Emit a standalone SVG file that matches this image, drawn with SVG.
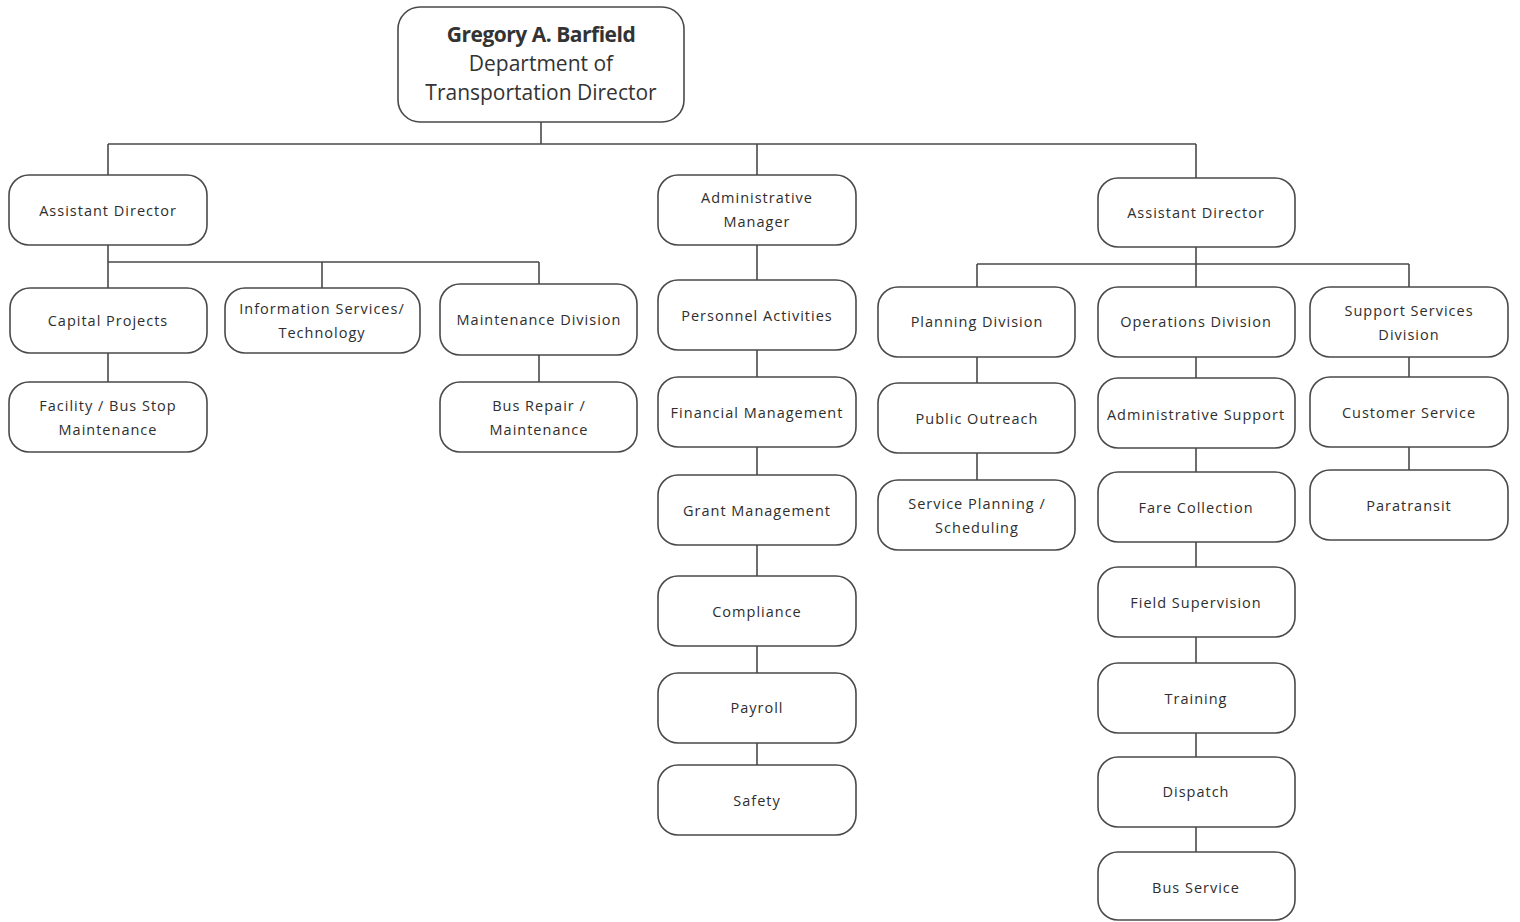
<svg xmlns="http://www.w3.org/2000/svg" width="1520" height="922" viewBox="0 0 1520 922">
<style>
.n{fill:#fff;stroke:#4a4a4a;stroke-width:1.6}
.t{font-family:"Open Sans","Liberation Sans",sans-serif;font-size:14.5px;fill:#2e2e2e;text-anchor:middle;letter-spacing:1px}
.h{font-family:"Open Sans","Liberation Sans",sans-serif;font-size:21px;fill:#333;text-anchor:middle}
.c{fill:none;stroke:#4a4a4a;stroke-width:1.6}
</style>
<rect width="1520" height="922" fill="#fff"/>
<g id="connectors" class="c">
<path d="M541 122V144M108 144H1196M108 144V175M757 144V175M1196 144V178"/>
<path d="M108 245V288M108 262H539M322 262V288M539 262V284M108 353V382M539 355V382"/>
<path d="M757 245V280M757 350V377M757 447V475M757 545V576M757 646V673M757 743V765"/>
<path d="M1196 247V287M977 264H1409M977 264V287M1409 264V287"/>
<path d="M977 357V383M977 453V480"/>
<path d="M1196 357V378M1196 448V472M1196 542V567M1196 637V663M1196 733V757M1196 827V852"/>
<path d="M1409 357V377M1409 447V470"/>
</g>
<g id="director"><rect class="n" x="398" y="7" width="286" height="115" rx="22"/>
<text class="h" x="541" y="42" font-weight="bold" letter-spacing="-0.5">Gregory A. Barfield</text>
<text class="h" x="541" y="71">Department of</text>
<text class="h" x="541" y="100">Transportation Director</text></g>
<g id="asst-left"><rect class="n" x="9" y="175" width="198" height="70" rx="20"/><text class="t" x="108" y="216">Assistant Director</text></g>
<g id="capital"><rect class="n" x="10" y="288" width="197" height="65" rx="20"/><text class="t" x="108" y="326">Capital Projects</text></g>
<g id="infoserv"><rect class="n" x="225" y="288" width="195" height="65" rx="20"/><text class="t" x="322" y="314">Information Services/</text><text class="t" x="322" y="338">Technology</text></g>
<g id="maintdiv"><rect class="n" x="440" y="284" width="197" height="71" rx="20"/><text class="t" x="539" y="325">Maintenance Division</text></g>
<g id="facility"><rect class="n" x="9" y="382" width="198" height="70" rx="20"/><text class="t" x="108" y="411">Facility / Bus Stop</text><text class="t" x="108" y="435">Maintenance</text></g>
<g id="busrepair"><rect class="n" x="440" y="382" width="197" height="70" rx="20"/><text class="t" x="539" y="411">Bus Repair /</text><text class="t" x="539" y="435">Maintenance</text></g>
<g id="adminmgr"><rect class="n" x="658" y="175" width="198" height="70" rx="20"/><text class="t" x="757" y="203">Administrative</text><text class="t" x="757" y="227">Manager</text></g>
<g id="personnel"><rect class="n" x="658" y="280" width="198" height="70" rx="20"/><text class="t" x="757" y="321">Personnel Activities</text></g>
<g id="financial"><rect class="n" x="658" y="377" width="198" height="70" rx="20"/><text class="t" x="757" y="418">Financial Management</text></g>
<g id="grant"><rect class="n" x="658" y="475" width="198" height="70" rx="20"/><text class="t" x="757" y="516">Grant Management</text></g>
<g id="compliance"><rect class="n" x="658" y="576" width="198" height="70" rx="20"/><text class="t" x="757" y="617">Compliance</text></g>
<g id="payroll"><rect class="n" x="658" y="673" width="198" height="70" rx="20"/><text class="t" x="757" y="713">Payroll</text></g>
<g id="safety"><rect class="n" x="658" y="765" width="198" height="70" rx="20"/><text class="t" x="757" y="806">Safety</text></g>
<g id="asst-right"><rect class="n" x="1098" y="178" width="197" height="69" rx="20"/><text class="t" x="1196" y="218">Assistant Director</text></g>
<g id="planning"><rect class="n" x="878" y="287" width="197" height="70" rx="20"/><text class="t" x="977" y="327">Planning Division</text></g>
<g id="operations"><rect class="n" x="1098" y="287" width="197" height="70" rx="20"/><text class="t" x="1196" y="327">Operations Division</text></g>
<g id="support"><rect class="n" x="1310" y="287" width="198" height="70" rx="20"/><text class="t" x="1409" y="316">Support Services</text><text class="t" x="1409" y="340">Division</text></g>
<g id="outreach"><rect class="n" x="878" y="383" width="197" height="70" rx="20"/><text class="t" x="977" y="424">Public Outreach</text></g>
<g id="servplan"><rect class="n" x="878" y="480" width="197" height="70" rx="20"/><text class="t" x="977" y="509">Service Planning /</text><text class="t" x="977" y="533">Scheduling</text></g>
<g id="adminsupport"><rect class="n" x="1098" y="378" width="197" height="70" rx="20"/><text class="t" x="1196" y="420" letter-spacing="0.3">Administrative Support</text></g>
<g id="fare"><rect class="n" x="1098" y="472" width="197" height="70" rx="20"/><text class="t" x="1196" y="513">Fare Collection</text></g>
<g id="field"><rect class="n" x="1098" y="567" width="197" height="70" rx="20"/><text class="t" x="1196" y="608">Field Supervision</text></g>
<g id="training"><rect class="n" x="1098" y="663" width="197" height="70" rx="20"/><text class="t" x="1196" y="704">Training</text></g>
<g id="dispatch"><rect class="n" x="1098" y="757" width="197" height="70" rx="20"/><text class="t" x="1196" y="797">Dispatch</text></g>
<g id="busservice"><rect class="n" x="1098" y="852" width="197" height="68" rx="20"/><text class="t" x="1196" y="893">Bus Service</text></g>
<g id="customer"><rect class="n" x="1310" y="377" width="198" height="70" rx="20"/><text class="t" x="1409" y="418">Customer Service</text></g>
<g id="paratransit"><rect class="n" x="1310" y="470" width="198" height="70" rx="20"/><text class="t" x="1409" y="511">Paratransit</text></g>
</svg>
